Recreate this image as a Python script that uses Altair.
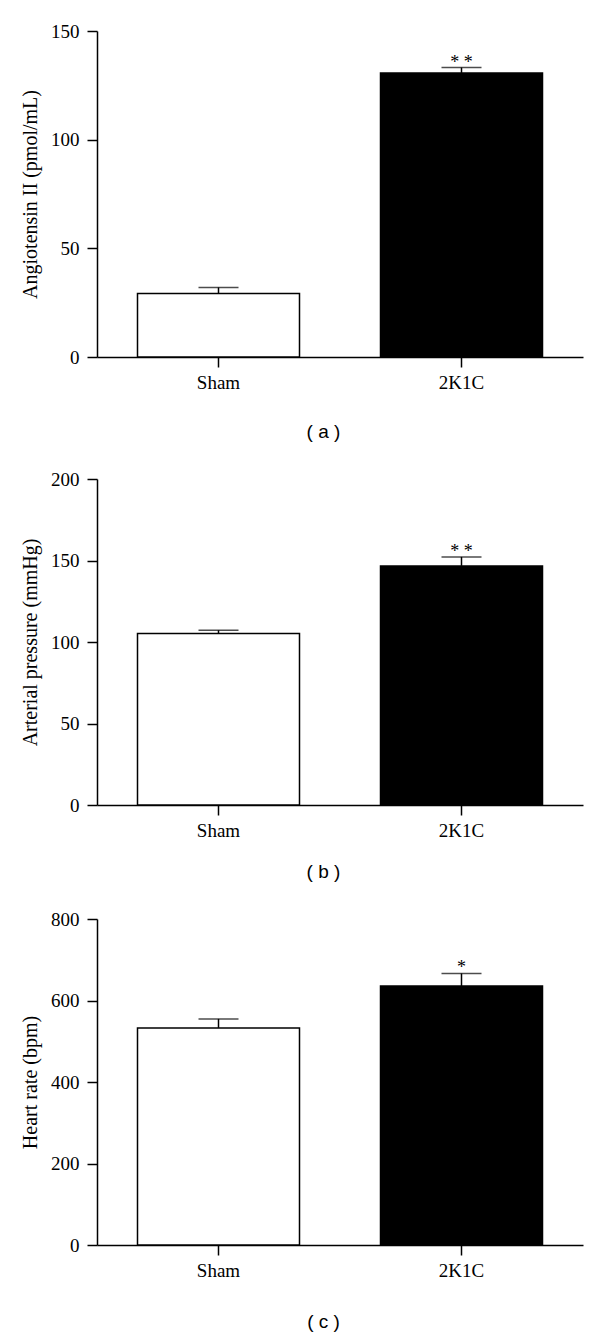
import altair as alt
import pandas as pd

groups = ["Sham", "2K1C"]
fills = ["white", "black"]

angio_mean = [29.2, 130.7]
angio_sem = [2.8, 2.5]
angio_sig = ["", "* *"]

pressure_mean = [105.2, 146.7]
pressure_sem = [2.0, 5.5]
pressure_sig = ["", "* *"]

hr_mean = [532.8, 635.4]
hr_sem = [22.0, 31.0]
hr_sig = ["", "*"]

SERIF = "Liberation Serif"
SANS = "Liberation Sans"


def panel(mean, sem, sig, ymax, ystep, ytitle, letter, title_y):
    df = pd.DataFrame({
        "group": groups,
        "mean": mean,
        "top": [m + s for m, s in zip(mean, sem)],
        "sig": sig,
    })
    x = alt.X(
        "group:N",
        sort=groups,
        scale=alt.Scale(paddingInner=0, paddingOuter=0),
        axis=alt.Axis(
            title=f"( {letter} )",
            titleFont=SANS,
            titleFontSize=19,
            titleFontWeight="normal",
            titleColor="black",
            titleX=226,
            titleY=title_y,
            titleAlign="center",
            titleBaseline="middle",
            labelAngle=0,
            labelFont=SERIF,
            labelFontSize=19,
            labelColor="black",
            labelPadding=6,
            tickSize=10,
            tickWidth=1.5,
            tickColor="black",
            domainWidth=1.5,
            domainColor="black",
        ),
    )
    yaxis = alt.Axis(
        title=ytitle,
        values=list(range(0, ymax + 1, ystep)),
        titleFont=SERIF,
        titleFontSize=20,
        titleFontWeight="normal",
        titleColor="black",
        titleX=-67,
        titleBaseline="middle",
        labelFont=SERIF,
        labelFontSize=19,
        labelColor="black",
        labelPadding=8,
        tickSize=10,
        tickWidth=1.5,
        tickColor="black",
        domainWidth=1.5,
        domainColor="black",
        grid=False,
    )
    yscale = alt.Scale(domain=[0, ymax], nice=False)
    base = alt.Chart(df)
    bars = base.mark_bar(size=162, stroke="black", strokeWidth=1.5).encode(
        x=x,
        y=alt.Y("mean:Q", scale=yscale, axis=yaxis),
        fill=alt.Fill("group:N", scale=alt.Scale(domain=groups, range=fills), legend=None),
    )
    err = base.mark_rule(color="black", strokeWidth=1.5).encode(
        x=x,
        y=alt.Y("mean:Q", scale=yscale, axis=yaxis),
        y2="top:Q",
    )
    cap = base.mark_tick(size=40, thickness=1.5, color="black").encode(
        x=x,
        y=alt.Y("top:Q", scale=yscale, axis=yaxis),
    )
    stars = base.mark_text(font=SERIF, fontSize=18, color="black", baseline="alphabetic", dy=0).encode(
        x=x,
        y=alt.Y("top:Q", scale=yscale, axis=yaxis),
        text="sig:N",
    )
    return alt.layer(bars, err, cap, stars).properties(width=486, height=326)


pa = panel(angio_mean, angio_sem, angio_sig, 150, 50, "Angiotensin II (pmol/mL)", "a", 74)
pb = panel(pressure_mean, pressure_sem, pressure_sig, 200, 50, "Arterial pressure (mmHg)", "b", 66)
pc = panel(hr_mean, hr_sem, hr_sig, 800, 200, "Heart rate (bpm)", "c", 76)

chart = alt.vconcat(pa, pb, pc, spacing=29).configure_view(stroke=None).properties(
    padding={"left": 12, "top": 14, "right": 5, "bottom": 5}
)

chart.save("out.html", embed_options={"renderer": "svg", "actions": False})
